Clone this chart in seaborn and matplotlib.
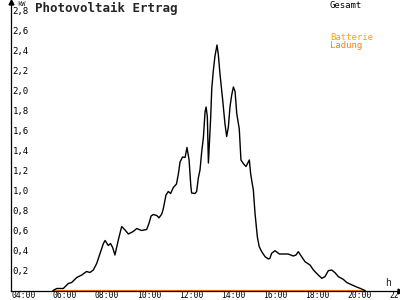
import matplotlib
matplotlib.use("Agg")
import matplotlib.pyplot as plt
import seaborn as sns
import pandas as pd

# --- data ---------------------------------------------------------------
hours = [6.00, 6.18, 6.49, 6.73, 6.89, 7.13, 7.37, 7.60, 7.76, 7.92,
         8.08, 8.24, 8.40, 8.48, 8.63, 8.74, 8.84, 8.95, 9.11, 9.27,
         9.43, 9.59, 9.82, 9.99, 10.21, 10.46, 10.57, 10.67, 10.78, 10.94,
         11.05, 11.18, 11.25, 11.38, 11.49, 11.60, 11.73, 11.88, 11.97, 12.05,
         12.17, 12.29, 12.38, 12.48, 12.56, 12.60, 12.76, 12.84, 12.92, 13.00,
         13.08, 13.16, 13.24, 13.29, 13.35, 13.40, 13.51, 13.56, 13.63, 13.71,
         13.81, 13.87, 13.95, 14.08, 14.19, 14.27, 14.35, 14.43, 14.51, 14.59,
         14.67, 14.75, 14.87, 14.95, 15.06, 15.19, 15.35, 15.41, 15.46, 15.54,
         15.62, 15.73, 15.82, 15.94, 16.10, 16.25, 16.33, 16.41, 16.57, 16.78,
         16.97, 17.20, 17.44, 17.57, 17.68, 17.84, 18.00, 18.24, 18.40, 18.63,
         18.80, 18.95, 19.11, 19.27, 19.43, 19.59, 19.82, 19.99, 20.14, 20.30,
         20.46, 20.62, 20.86]
gesamt = [0.00, 0.02, 0.02, 0.07, 0.08, 0.13, 0.155, 0.19, 0.18, 0.205,
          0.27, 0.37, 0.47, 0.50, 0.45, 0.47, 0.43, 0.355, 0.505, 0.64,
          0.605, 0.565, 0.59, 0.62, 0.60, 0.61, 0.67, 0.745, 0.76, 0.75,
          0.727, 0.765, 0.815, 0.955, 0.99, 0.97, 1.03, 1.065, 1.165, 1.285,
          1.335, 1.33, 1.43, 1.305, 1.055, 0.975, 0.97, 0.99, 1.125, 1.205,
          1.385, 1.525, 1.785, 1.835, 1.735, 1.275, 1.735, 2.02, 2.19, 2.34,
          2.455, 2.365, 2.17, 1.905, 1.665, 1.54, 1.635, 1.84, 1.955, 2.035,
          1.99, 1.77, 1.615, 1.305, 1.27, 1.24, 1.305, 1.17, 1.105, 1.005,
          0.772, 0.538, 0.438, 0.388, 0.338, 0.315, 0.322, 0.372, 0.398, 0.365,
          0.365, 0.365, 0.345, 0.355, 0.388, 0.338, 0.288, 0.255, 0.205, 0.155,
          0.122, 0.138, 0.198, 0.205, 0.178, 0.138, 0.112, 0.08, 0.065, 0.05,
          0.035, 0.022, 0.00]
ladung_hours = [6.00, 20.86]
ladung = [0.0, 0.0]

y_ticks = [0.2, 0.4, 0.6, 0.8, 1.0, 1.2, 1.4, 1.6, 1.8, 2.0, 2.2, 2.4, 2.6, 2.8]
y_labels = ["0,2", "0,4", "0,6", "0,8", "1,0", "1,2", "1,4", "1,6", "1,8",
            "2,0", "2,2", "2,4", "2,6", "2,8"]
x_ticks = [4, 6, 8, 10, 12, 14, 16, 18, 20, 22]
x_labels = ["04:00", "06:00", "08:00", "10:00", "12:00", "14:00", "16:00",
            "18:00", "20:00", "22:00"]

title = "Photovoltaik Ertrag"
series_names = ["Gesamt", "Batterie", "Ladung"]

# --- plot ---------------------------------------------------------------
sns.set_style("white")
plt.rcParams["font.family"] = ["DejaVu Sans Mono"]

fig = plt.figure(figsize=(4, 3), dpi=100)
ax = fig.add_axes([11 / 400, (300 - 290.5) / 300, 389 / 400, 288.5 / 300])

df = pd.DataFrame({"h": hours, "kw": gesamt})
dl = pd.DataFrame({"h": ladung_hours, "kw": ladung})
sns.lineplot(data=dl, x="h", y="kw", ax=ax, color="#ff8000", linewidth=1.6,
             estimator=None, sort=False)
sns.lineplot(data=df, x="h", y="kw", ax=ax, color="black", linewidth=1.0,
             estimator=None, sort=False)

ax.set_xlim(4, 4 + 389 / 21)
ax.set_ylim(0, 288.5 / 100)
ax.set_xlabel("")
ax.set_ylabel("")

for s in ["top", "right"]:
    ax.spines[s].set_visible(False)
for s in ["left", "bottom"]:
    ax.spines[s].set_color("black")
    ax.spines[s].set_linewidth(0.9)

ax.set_yticks(y_ticks)
ax.set_yticklabels(y_labels)
ax.set_xticks(x_ticks)
ax.set_xticklabels(x_labels)
ax.tick_params(axis="y", direction="inout", length=6, width=0.9, pad=-4,
               labelsize=6.5, colors="black")
ax.tick_params(axis="x", direction="inout", length=6, width=0.9, pad=-3,
               labelsize=5.8, colors="black")
for t in ax.get_yticklabels():
    t.set_horizontalalignment("left")
for t in ax.get_xticklabels():
    t.set_horizontalalignment("left")

# arrows on axes ends
ax.plot(0, 1, marker="^", color="black", markersize=3.5,
        transform=ax.transAxes, clip_on=False)
ax.plot(1, 0, marker=">", color="black", markersize=3.5,
        transform=ax.transAxes, clip_on=False)

fig.text(17 / 400, 1 - 4 / 300, "kW", fontsize=5, va="center", ha="left")
fig.text(385 / 400, 1 - 283 / 300, "h", fontsize=7, va="center", ha="left")
fig.text(35 / 400, 1 - 8 / 300, title, fontsize=9, fontweight="bold",
         va="center", ha="left")
fig.text(330 / 400, 1 - 5 / 300, series_names[0], fontsize=6.5,
         va="center", ha="left", color="black")
fig.text(330 / 400, 1 - 37 / 300, series_names[1], fontsize=6.5,
         va="center", ha="left", color="#ffa500")
fig.text(330 / 400, 1 - 45 / 300, series_names[2], fontsize=6.5,
         va="center", ha="left", color="#ff8000")

fig.savefig("out.png", dpi=100)
